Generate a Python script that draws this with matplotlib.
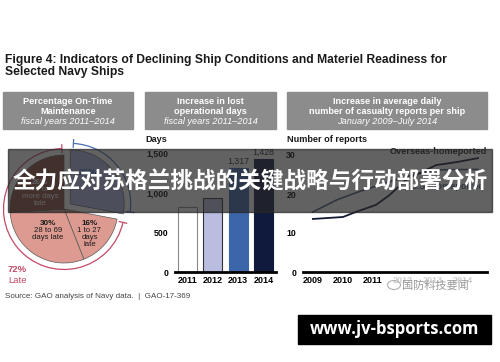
import matplotlib.pyplot as plt
from matplotlib.patches import Rectangle, Arc, Ellipse
import numpy as np

plt.rcParams['font.family'] = ['Liberation Sans', 'DejaVu Sans']

W, H = 500, 362

# pie: percentage on-time maintenance
pie_values = [28, 16, 30, 26]
pie_colors = ['#aebbe6', '#dc9a90', '#dc9a90', '#8a4a40']
late_total = 72

# bars: lost operational days
bar_years = ['2011', '2012', '2013', '2014']
bar_days = [820, 930, 1317, 1428]
bar_colors = ['#ffffff', '#b9bde0', '#3d66aa', '#0f1a3c']
bar_edges = ['#8a8a8a', '#333333', '#3d66aa', '#0f1a3c']

# lines: average daily casualty reports per ship
overseas_x = [2009.0, 2010.0, 2010.5, 2011.1, 2011.55, 2012.1, 2013.1, 2013.8, 2014.5]
overseas_y = [13.6, 14.1, 15.6, 17.2, 19.7, 23.6, 27.4, 28.2, 29.2]
us_x = [2009.0, 2009.8, 2010.5, 2011.5, 2012.5, 2013.1, 2014.5]
us_y = [15.4, 18.5, 20.5, 23.0, 25.3, 26.2, 26.3]
line_years = [2009, 2010, 2011, 2012, 2013, 2014]


def px_axes(l, t, r, b, **kw):
    # axes from pixel box (origin top-left)
    return fig.add_axes([l / W, 1 - b / H, (r - l) / W, (b - t) / H], **kw)


fig = plt.figure(figsize=(5, 3.62), dpi=100)

# ---- pie ----
cx, cy, rad = 64, 209, 54
half = 1.35 * rad
pa = px_axes(cx - half, cy - half, cx + half, cy + half)
explode = [0.15, 0, 0, 0]
pa.pie(pie_values, colors=pie_colors, startangle=90, counterclock=False,
       explode=explode, wedgeprops=dict(edgecolor='#5a5a5a', linewidth=0.5))
pa.set_xlim(-1.35, 1.35)
pa.set_ylim(-1.35, 1.35)
pa.axis('off')

ontime_deg = pie_values[0] / 100 * 360
mid = np.radians(90 - ontime_deg / 2)
ex, ey = explode[0] * np.cos(mid), explode[0] * np.sin(mid)

# brackets round the slices
red = '#c24a68'
blue = '#4a70b4'
r_arc = 1.12
pa.add_patch(Arc((0, 0), 2 * r_arc, 2 * r_arc, theta1=92, theta2=360 + 90 - ontime_deg - 2,
                 color=red, lw=0.9))
pa.add_patch(Arc((ex, ey), 2 * r_arc, 2 * r_arc, theta1=90 - ontime_deg + 3, theta2=87,
                 color=blue, lw=0.9))
for ang, c0, col in [(92, (0, 0), red), (360 + 90 - ontime_deg - 2, (0, 0), red),
                     (87, (ex, ey), blue), (90 - ontime_deg + 3, (ex, ey), blue)]:
    a = np.radians(ang)
    pa.plot([c0[0] + 1.05 * np.cos(a), c0[0] + 1.19 * np.cos(a)],
            [c0[1] + 1.05 * np.sin(a), c0[1] + 1.19 * np.sin(a)], color=col, lw=0.9)

pa.text(0.45, 0.68, '28%', color='#3c64b0', fontsize=6.5, weight='bold', ha='center', va='center')
pa.text(-0.44, 0.42, '26%', color='white', fontsize=5.8, weight='bold', ha='center', va='bottom')
pa.text(-0.44, 0.42, '70 or\nmore days\nlate', color='white', fontsize=5.6, ha='center', va='top',
        linespacing=1.0)
pa.text(-0.3, -0.33, '30%', color='#1a1a1a', fontsize=5.8, weight='bold', ha='center', va='bottom')
pa.text(-0.3, -0.33, '28 to 69\ndays late', color='#1a1a1a', fontsize=5.6, ha='center', va='top',
        linespacing=1.0)
pa.text(0.47, -0.33, '16%', color='#1a1a1a', fontsize=5.8, weight='bold', ha='center', va='bottom')
pa.text(0.47, -0.33, '1 to 27\ndays\nlate', color='#1a1a1a', fontsize=5.6, ha='center', va='top',
        linespacing=1.0)
pa.text(-1.04, -1.12, f'{late_total}%', color=red, fontsize=6.8, weight='bold', ha='left', va='center')
pa.text(-1.04, -1.33, 'Late', color=red, fontsize=6.8, ha='left', va='center')

# ---- bars ----
bx = px_axes(175, 153, 276, 272)
xs = np.arange(len(bar_years))
bx.bar(xs, bar_days, width=0.75, color=bar_colors, edgecolor=bar_edges, linewidth=0.8)
bx.set_xlim(-0.5, 3.5)
bx.set_ylim(0, 1500)
for s in ['left', 'right', 'top']:
    bx.spines[s].set_visible(False)
bx.spines['bottom'].set_linewidth(2)
bx.set_yticks([0, 500, 1000, 1500])
bx.set_yticklabels(['0', '500', '1,000', '1,500'])
bx.set_xticks(xs)
bx.set_xticklabels(bar_years)
bx.tick_params(axis='y', length=0, pad=5, labelsize=6.3)
bx.tick_params(axis='x', length=0, pad=3, labelsize=6.5)
for lab in bx.get_xticklabels() + bx.get_yticklabels():
    lab.set_fontweight('bold')
for i in [2, 3]:
    bx.text(xs[i], bar_days[i] + 25, f'{bar_days[i]:,}', ha='center', va='bottom', fontsize=6.3,
            color='#222222')

# ---- lines ----
lx = px_axes(303, 155, 487, 272)
lx.plot(us_x, us_y, color='#4e5f85', lw=1.2)
lx.plot(overseas_x, overseas_y, color='#111a33', lw=1.3)
lx.set_xlim(2008.67, 2014.8)
lx.set_ylim(0, 30)
for s in ['left', 'right', 'top']:
    lx.spines[s].set_visible(False)
lx.spines['bottom'].set_linewidth(2)
lx.set_yticks([0, 10, 20, 30])
lx.set_xticks(line_years)
lx.tick_params(axis='y', length=0, pad=5, labelsize=6.3)
lx.tick_params(axis='x', length=0, pad=3, labelsize=6.5)
for lab in lx.get_xticklabels() + lx.get_yticklabels():
    lab.set_fontweight('bold')
lx.text(2014.8, 31, 'Overseas-homeported', ha='right', va='center', fontsize=6.6, weight='bold',
        color='#222222', clip_on=False)
lx.text(2013.5, 22, 'U.S.-homeported', ha='center', va='center', fontsize=6.6, weight='bold',
        color='#4e5f85')

# ---- overlay: titles, headers, banner, watermarks ----
ov = fig.add_axes([0, 0, 1, 1], zorder=10)
ov.set_xlim(0, W)
ov.set_ylim(H, 0)
ov.axis('off')
ov.patch.set_alpha(0)

ov.text(5, 54, 'Figure 4: Indicators of Declining Ship Conditions and Materiel Readiness for\n'
        'Selected Navy Ships', va='top', ha='left', fontsize=8.7, weight='bold', color='#1a1a1a',
        linespacing=1.0)

headers = [
    ((3, 133), ['Percentage On-Time', 'Maintenance', 'fiscal years 2011\u20132014']),
    ((145, 276), ['Increase in lost', 'operational days', 'fiscal years 2011\u20132014']),
    ((287, 487), ['Increase in average daily', 'number of casualty reports per ship',
                  'January 2009\u2013July 2014']),
]
for (x0, x1), lines in headers:
    ov.add_patch(Rectangle((x0, 92), x1 - x0, 37, color='#8c8c8c'))
    xc = (x0 + x1) / 2
    ov.text(xc, 101, lines[0], ha='center', va='center', color='white', fontsize=6.6, weight='bold')
    ov.text(xc, 111, lines[1], ha='center', va='center', color='white', fontsize=6.6, weight='bold')
    ov.text(xc, 121, lines[2], ha='center', va='center', color='white', fontsize=6.6, style='italic')

ov.text(145, 139, 'Days', ha='left', va='center', fontsize=6.6, weight='bold', color='#1a1a1a')
ov.text(287, 139, 'Number of reports', ha='left', va='center', fontsize=6.6, weight='bold',
        color='#1a1a1a')

ov.text(5, 297, 'Source: GAO analysis of Navy data.  |  GAO-17-369', ha='left', va='center',
        fontsize=5.8, color='#444444')

# watermark
ov.add_patch(Rectangle((384, 276), 90, 17, color='white', alpha=0.8))
ov.add_patch(Ellipse((394, 285), 13, 9, fill=False, ec='#b0b0b0', lw=0.8))
ov.text(402, 285, '国防科技要闻', ha='left', va='center', fontsize=8, color='#9a9a9a',
        family=['Noto Sans CJK SC', 'DejaVu Sans'])

# banner
ov.add_patch(Rectangle((8, 149), 484, 63, color='#262626', alpha=0.72))
ov.text(250, 182, '全力应对苏格兰挑战的关键战略与行动部署分析', ha='center', va='center',
        color='white', fontsize=16.3, weight='bold', family=['Noto Sans CJK SC', 'DejaVu Sans'])

# site box
ov.add_patch(Rectangle((298, 315), 193, 29, color='black'))
ov.text(394.5, 329.5, 'www.jv-bsports.com', ha='center', va='center', color='white', fontsize=12,
        weight='bold', family=['Open Sans', 'DejaVu Sans'])

fig.savefig('out.png', dpi=100)
